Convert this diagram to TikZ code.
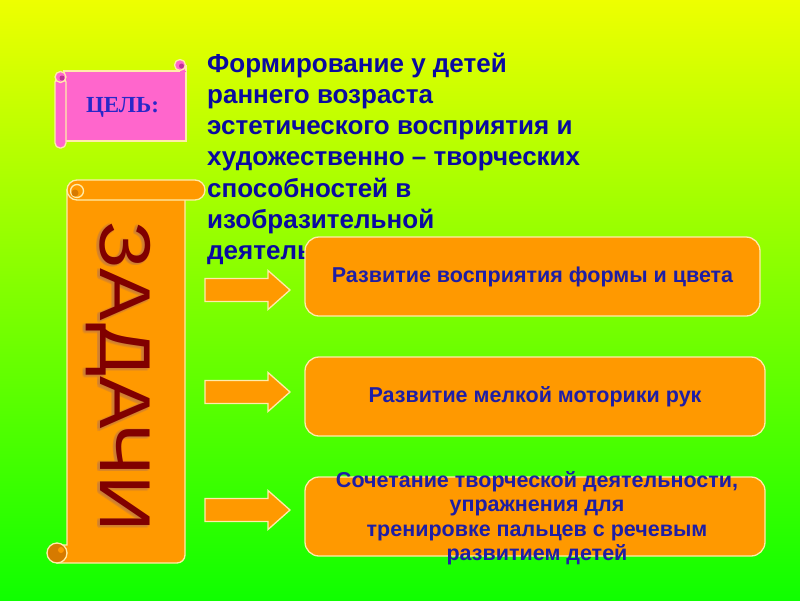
\documentclass[tikz,border=0pt]{standalone}
\usepackage{fontspec}
\usetikzlibrary{calc}
\setmainfont{Liberation Sans}
\newfontfamily\goalfont{Liberation Serif}
\newfontfamily\zadfont[FakeStretch=1.09]{Liberation Sans}
\definecolor{bgtop}{RGB}{238,255,0}
\definecolor{bgbot}{RGB}{15,255,0}
\definecolor{orng}{RGB}{255,153,0}
\definecolor{orngdk}{RGB}{214,122,0}
\definecolor{pinkc}{RGB}{255,102,204}
\definecolor{pinkdk}{RGB}{190,50,150}
\definecolor{cream}{RGB}{255,236,170}
\definecolor{titleblue}{RGB}{10,10,160}
\definecolor{boxblue}{RGB}{30,30,165}
\definecolor{goalblue}{RGB}{40,40,200}
\definecolor{darkred}{RGB}{128,0,0}
\definecolor{shadowtan}{RGB}{200,125,60}
\tikzset{
  outline/.style={draw=cream, line width=1.3pt},
  taskbox/.style={outline, fill=orng, rounded corners=14pt, minimum height=79pt,
    inner sep=0pt, text=boxblue, font=\fontsize{21.5}{24.5}\selectfont\bfseries},
  boxtext/.style={inner sep=0pt, text=boxblue, font=\fontsize{21.5}{24.5}\selectfont\bfseries},
  blockarrow/.style={outline, fill=orng, line join=miter},
  zadachi/.style={rotate=-90, anchor=base, inner sep=0pt, font=\zadfont\fontsize{72}{72}\selectfont},
  titletext/.style={inner sep=0pt, align=left, text=titleblue, font=\fontsize{26}{31.3}\selectfont\bfseries}
}
\begin{document}
\begin{tikzpicture}[x=1pt,y=-1pt]
\useasboundingbox (0,0) rectangle (800,600);
\shade[top color=bgtop, bottom color=bgbot] (0,0) rectangle (800,600);

% goal text (base anchor = baseline of last line)
\node[titletext, anchor=base west] (goal) at (207,259.8) {Формирование у детей\\раннего возраста\\эстетического восприятия и\\художественно – творческих\\способностей в\\изобразительной\\деятельности};

% pink scroll (ЦЕЛЬ)
\draw[outline, fill=pinkc] (64,71) rectangle (186,141);
\fill[pinkc] (180,65) rectangle (186,72);
\draw[draw=cream, line width=1.3pt] (186,65) -- (186,71);
\draw[outline, fill=pinkc] (180,65) circle[radius=5.5];
\fill[pinkdk] (181.5,66) circle[radius=2.5];
\draw[outline, fill=pinkc, rounded corners=5pt] (55,77) -- (55,148) -- (66,148) -- (66,77) -- cycle;
\draw[outline, fill=pinkc] (60.5,77) circle[radius=5.5];
\fill[pinkdk] (62,78) circle[radius=2.5];
\node[inner sep=0pt, anchor=base, text=goalblue, font=\goalfont\fontsize{23}{23}\selectfont\bfseries] (goallabel) at (122.5,112) {ЦЕЛЬ:};

% orange scroll (ЗАДАЧИ)
\draw[outline, fill=orng] (67,190) -- (67,545) -- (57,545) -- (57,563) -- (177,563)
  .. controls (181.4,563) and (185,559.4) .. (185,555) -- (185,190) -- cycle;
\draw[outline, fill=orngdk] (57,553) circle[radius=10];
\fill[orng] (61,550) circle[radius=3];
\draw[outline, fill=orng, rounded corners=10pt] (67,180) rectangle (205,200);
\draw[outline, fill=orng] (77,191) circle[radius=6.5];
\fill[orngdk] (75,193) circle[radius=3.5];
\coordinate (zc) at (98.8,377.7);
\foreach \dx/\dy in {-1.5/0,1.5/0,0/-1.5,0/1.5,-1.1/-1.1,1.1/1.1,-1.1/1.1,1.1/-1.1}{
  \node[zadachi, text=shadowtan, opacity=.3] at ($(zc)+(\dx,\dy)$) {ЗАДАЧИ};
}
\node[zadachi, text=darkred] (tasks) at (100,376.5) {ЗАДАЧИ};

% task boxes
\node[taskbox, minimum width=455pt] (t1) at (532.5,276.5) {Развитие восприятия формы и цвета};
\node[taskbox, minimum width=460pt] (t2) at (535,396.5) {Развитие мелкой моторики рук};
\node[taskbox, minimum width=460pt] (t3) at (535,516.5) {};
\node[boxtext, anchor=base, align=center] (t3text) at (537,560.5) {Сочетание творческой деятельности,\\упражнения для\\тренировке пальцев с речевым\\развитием детей};

% arrows
\coordinate (a1) at (205,290);
\coordinate (a2) at (205,392);
\coordinate (a3) at (205,510);
\foreach \a in {a1,a2,a3}{
  \draw[blockarrow] (\a) ++(0,-11.5) -- ++(63,0) -- ++(0,-8) -- ++(22,19.5)
    -- ++(-22,19.5) -- ++(0,-8) -- ++(-63,0) -- cycle;
}
\end{tikzpicture}
\end{document}
